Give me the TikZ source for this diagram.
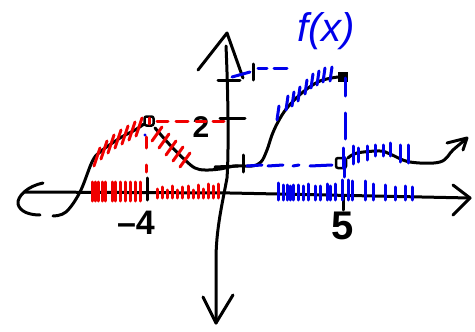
\documentclass[tikz,border=0pt]{standalone}
\usepackage{fontspec}
\setmainfont{Liberation Sans}
\definecolor{pen}{RGB}{0,0,0}
\definecolor{redpen}{RGB}{240,0,0}
\definecolor{bluepen}{RGB}{0,0,235}
\begin{document}
\begin{tikzpicture}[x=1pt,y=-1pt,
  ink/.style={draw=pen,line width=3pt,line cap=round,line join=round},
  redink/.style={draw=redpen,line width=3pt,line cap=round},
  blueink/.style={draw=bluepen,line width=3pt,line cap=round},
  lbl/.style={text=pen,inner sep=0pt},
  ]
\useasboundingbox (0,0) rectangle (475,332);
\fill[white] (0,0) rectangle (475,332);

% named coordinates
\coordinate (xl) at (25,192);
\coordinate (xm) at (230,193);
\coordinate (xr) at (470,198);
\coordinate (yt) at (227,33);
\coordinate (yb) at (216,323);

% x-axis
\draw[ink] (xl) -- (xm) -- (xr);
\draw[ink] (43,183) .. controls (28,186) and (17,196) .. (18,204) .. controls (20,212) and (30,215) .. (40,215);
\draw[ink] (453,185) -- (xr) -- (453,215);

% y-axis
\draw[ink] (226,46) .. controls (228,90) and (229,150) .. (227,178) .. controls (222,205) and (216,230) .. (216,260) -- (yb);
\draw[ink] (198,70) -- (yt) -- (243,78);
\draw[ink] (203,297) -- (yb) -- (233,295);

% ticks
\draw[ink] (218,80) -- (240,80);
\draw[ink] (253,64) -- (253,80);
\draw[ink] (220,118) -- (245,118);
\draw[ink] (215,167) -- (238,166);
\draw[ink] (243,155) -- (243,172);
\draw[ink] (147,178) -- (147,200);
\draw[ink] (343,196) -- (343,210);

% labels
\node[lbl,font=\fontsize{30}{30}\selectfont\bfseries] (l2) at (201,127) {2};
\node[lbl,font=\fontsize{34}{34}\selectfont\bfseries] (lm4) at (136,223) {–4};
\node[lbl,font=\fontsize{40}{40}\selectfont\bfseries] (l5) at (343,226) {5};
\node[lbl,text=bluepen,font=\fontsize{40}{40}\selectfont\itshape] (lf) at (326,31) {f(x)};

% curve
\draw[ink] plot[smooth,tension=0.6] coordinates {(53,216)(66,212)(80,192)(92,162)(100,152)(120,138)(135,130)(144,124)};
\draw[ink] plot[smooth,tension=0.6] coordinates {(155,128)(170,145)(185,160)(195,168)(205,170)(220,169)(235,166)(252,166)(261,162)(267,150)(272,135)(278,122)(287,108)(303,92)(320,81)(338,77)};
\draw[ink] plot[smooth,tension=0.6] coordinates {(348,158)(357,153)(380,151)(390,154)(410,162)(440,162)(453,150)(466,139)};
\draw[ink] (447,143) -- (467,138) -- (463,150);

% endpoints
\node[draw=pen,line width=2.5pt,rounded corners=2pt,minimum size=9pt,inner sep=0pt] (oa) at (149,121) {};
\node[fill=pen,minimum size=10pt,inner sep=0pt] (fb) at (343,77) {};
\node[draw=pen,line width=2.5pt,rounded corners=2pt,minimum size=10pt,inner sep=0pt] (ob) at (341,163) {};

% red dashed guides
\foreach \a/\b in {157/168,176/188,196/206,213/224}
  \draw[redink] (\a,121) -- (\b,121);
\draw[redink] (149,118) -- (149,124);
\draw[redink] (146,137) -- (146,148);
\draw[redink] (146,165) -- (146,172);
\fill[bluepen] (145,135) circle (1.6pt);

% red hatching on axis
\foreach \x in {92,95,98,102,105,112,115,120,125,130,135,140}
  \draw[redink] (\x,182) -- (\x,201);
\foreach \x/\t in {157/189,162/187,167/190,172/186,177/190,182/187,188/186,193/190,198/185,203/189,208/184,213/186,218/184}
  \draw[redink] (\x,\t) -- (\x,198);

% red hatching on curve
\foreach \x/\y in {97/157,104/150,111/144,118/139,125/135,132/131,139/127}
  \draw[redink] (\x+3,\y-9) -- (\x-3,\y+9);
\foreach \x/\y in {157/134,164/141,171/148,178/154,185/160}
  \draw[redink] (\x+5,\y-7) -- (\x-5,\y+7);

% blue dashed guides
\draw[blueink] (232,77) -- (250,72);
\draw[blueink] (258,68) -- (267,68);
\draw[blueink] (274,68) -- (287,68);
\draw[blueink] (345,78) -- (345,96);
\draw[blueink] (345,113) -- (345,139);
\draw[blueink] (344,157) -- (344,177);
\foreach \a/\b in {247/262,268/283,293/299,310/332}
  \draw[blueink] (\a,166) -- (\b,165);

% blue hatching on curve
\foreach \x/\y in {278/113,287/103,293/99,299/94,306/87,312/81,318/78,324/75,331/74}
  \draw[blueink] (\x-1,\y+7) -- (\x+1,\y-7);
\foreach \x/\a/\b in {343/148/168,353/146/164,358/148/162,367/146/160,375/145/156,383/145/156,390/143/156,400/145/162,408/145/163}
  \draw[blueink] (\x,\a) -- (\x,\b);

% blue hatching on axis
\foreach \x/\t in {278/183,283/185,287/185,290/186,293/185,298/185,303/186,308/184,315/186,320/186,327/184,330/186,335/184,342/180,348/180,352/181,365/181,373/184,385/185,395/187,405/186,412/187}
  \draw[blueink] (\x,\t) -- (\x,200);
\end{tikzpicture}
\end{document}
